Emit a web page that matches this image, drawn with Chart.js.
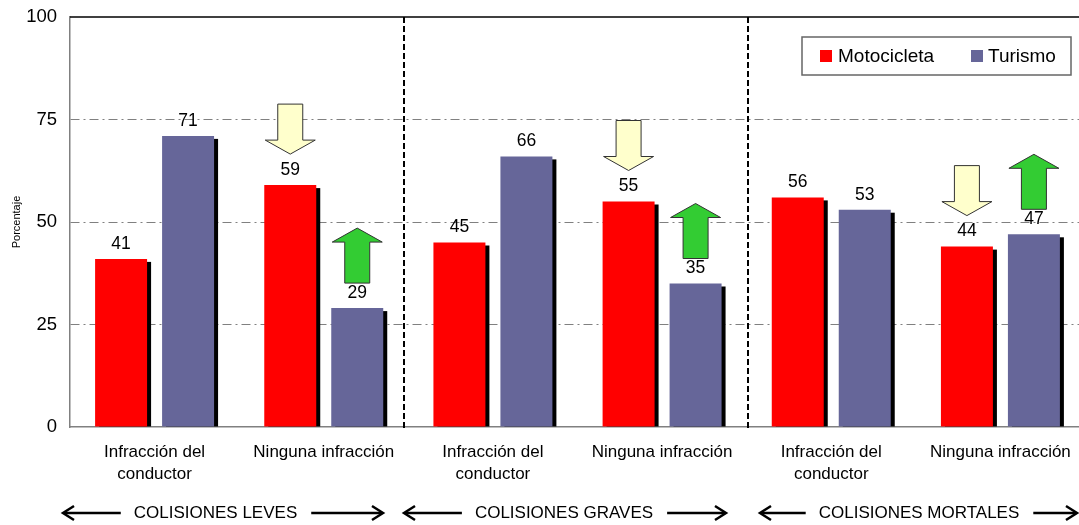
<!DOCTYPE html>
<html>
<head>
<meta charset="utf-8">
<script src="https://cdn.jsdelivr.net/npm/chart.js@4.4.0/dist/chart.umd.min.js"></script>
<style>
  html, body { margin: 0; padding: 0; background: #fff; overflow: hidden; }
  #wrap { width: 1079px; height: 525px; overflow: hidden; position: relative; }
  canvas { display: block; }
</style>
</head>
<body>
<div id="wrap"><canvas id="c" width="1085" height="525"></canvas></div>
<script>
// Categories (two per collision severity)
const categories = [
  ["Infracción del", "conductor"], "Ninguna infracción",
  ["Infracción del", "conductor"], "Ninguna infracción",
  ["Infracción del", "conductor"], "Ninguna infracción"
];
// Percentages per vehicle type
const motocicleta = [41, 59, 45, 55, 56, 44];
const turismo     = [71, 29, 66, 35, 53, 47];
// Y axis
const yMin = 0, yMax = 100, yStep = 25;
// Severity groups shown under the axis
const groupLabels = ["COLISIONES LEVES", "COLISIONES GRAVES", "COLISIONES MORTALES"];
// Trend arrows: down on motorbike bars, up on car bars
const downArrowCats = [1, 3, 5];
const upArrowCats   = [1, 3, 5];

const FONT = '"Liberation Sans", Arial, Helvetica, sans-serif';
const RED = '#FF0000';
const BLUE = '#666699';

// Layout of the decorations (pixels)
const separatorsX = [404, 748];
const groupSpans = [[63, 383, 215.5], [404, 726, 564], [760, 1077, 919]]; // start, end, text centre
const legendBox = { x: 802, y: 37, w: 269, h: 38 };

function blockArrow(ctx, cx, top, h, up, fill) {
  const w = 50, sw = 25, hh = 14;
  ctx.save();
  ctx.beginPath();
  if (up) {
    ctx.moveTo(cx, top);
    ctx.lineTo(cx + w / 2, top + hh);
    ctx.lineTo(cx + sw / 2, top + hh);
    ctx.lineTo(cx + sw / 2, top + h);
    ctx.lineTo(cx - sw / 2, top + h);
    ctx.lineTo(cx - sw / 2, top + hh);
    ctx.lineTo(cx - w / 2, top + hh);
  } else {
    const tip = top + h;
    ctx.moveTo(cx - sw / 2, top);
    ctx.lineTo(cx + sw / 2, top);
    ctx.lineTo(cx + sw / 2, tip - hh);
    ctx.lineTo(cx + w / 2, tip - hh);
    ctx.lineTo(cx, tip);
    ctx.lineTo(cx - w / 2, tip - hh);
    ctx.lineTo(cx - sw / 2, tip - hh);
  }
  ctx.closePath();
  ctx.fillStyle = fill;
  ctx.fill();
  ctx.lineWidth = 1;
  ctx.strokeStyle = '#333';
  ctx.stroke();
  ctx.restore();
}

function lineArrow(ctx, x1, x2, y) {
  // tip at x1
  const dir = x2 > x1 ? 1 : -1;
  ctx.save();
  ctx.strokeStyle = '#000';
  ctx.lineWidth = 2.5;
  ctx.lineCap = 'butt';
  ctx.beginPath();
  ctx.moveTo(x1 + dir * 1, y);
  ctx.lineTo(x2, y);
  ctx.stroke();
  ctx.beginPath();
  ctx.moveTo(x1 + dir * 11, y - 7);
  ctx.lineTo(x1, y);
  ctx.lineTo(x1 + dir * 11, y + 7);
  ctx.stroke();
  ctx.restore();
}

const decorations = {
  id: 'decorations',
  beforeDatasetsDraw(chart) {
    const { ctx, chartArea } = chart;
    ctx.save();
    // top frame line
    ctx.strokeStyle = '#000';
    ctx.lineWidth = 1.5;
    ctx.beginPath();
    ctx.moveTo(chartArea.left, chartArea.top);
    ctx.lineTo(chartArea.right, chartArea.top);
    ctx.stroke();
    // severity separators
    ctx.setLineDash([6, 3]);
    ctx.lineWidth = 2;
    separatorsX.forEach(x => {
      ctx.beginPath();
      ctx.moveTo(x, chartArea.top);
      ctx.lineTo(x, chartArea.bottom + 4);
      ctx.stroke();
    });
    ctx.setLineDash([]);
    // bar shadows
    ctx.fillStyle = '#000';
    chart.data.datasets.forEach((ds, i) => {
      chart.getDatasetMeta(i).data.forEach(bar => {
        const w = bar.width;
        ctx.fillRect(bar.x - w / 2 + 4, bar.y + 3, w, bar.base - bar.y - 3);
      });
    });
    ctx.restore();
  },
  afterDatasetsDraw(chart) {
    const { ctx } = chart;
    ctx.save();
    // value labels
    ctx.font = '17.5px ' + FONT;
    ctx.fillStyle = '#000';
    ctx.textAlign = 'center';
    ctx.textBaseline = 'middle';
    chart.data.datasets.forEach((ds, i) => {
      chart.getDatasetMeta(i).data.forEach((bar, j) => {
        ctx.fillText(String(ds.data[j]), bar.x, bar.y - 15);
      });
    });
    // trend arrows
    const moto = chart.getDatasetMeta(0).data;
    const car = chart.getDatasetMeta(1).data;
    downArrowCats.forEach(j => {
      const b = moto[j];
      blockArrow(ctx, b.x, b.y - 31 - 50, 50, false, '#FFFFCC');
    });
    upArrowCats.forEach(j => {
      const b = car[j];
      blockArrow(ctx, b.x, b.y - 25 - 55, 55, true, '#33CC33');
    });
    ctx.restore();
  },
  afterDraw(chart) {
    const { ctx, chartArea } = chart;
    ctx.save();
    // y axis title
    ctx.font = '11px ' + FONT;
    ctx.fillStyle = '#000';
    ctx.textAlign = 'center';
    ctx.textBaseline = 'middle';
    ctx.translate(17, (chartArea.top + chartArea.bottom) / 2);
    ctx.rotate(-Math.PI / 2);
    ctx.fillText('Porcentaje', 0, 0);
    ctx.restore();

    // legend
    ctx.save();
    const L = legendBox;
    ctx.fillStyle = '#fff';
    ctx.fillRect(L.x, L.y, L.w, L.h);
    ctx.strokeStyle = '#666';
    ctx.lineWidth = 1.5;
    ctx.strokeRect(L.x, L.y, L.w, L.h);
    ctx.font = '19px ' + FONT;
    ctx.textBaseline = 'middle';
    ctx.textAlign = 'left';
    const cy = L.y + L.h / 2;
    const items = [[820, 838], [971, 988]];
    chart.data.datasets.forEach((ds, i) => {
      ctx.fillStyle = ds.backgroundColor;
      ctx.fillRect(items[i][0], cy - 6, 12, 12);
      ctx.fillStyle = '#000';
      ctx.fillText(ds.label, items[i][1], cy + 1);
    });
    ctx.restore();

    // severity groups under the axis
    ctx.save();
    ctx.font = '17px ' + FONT;
    ctx.fillStyle = '#000';
    ctx.textAlign = 'center';
    ctx.textBaseline = 'middle';
    const y = 513;
    groupLabels.forEach((txt, g) => {
      const [s, e, c] = groupSpans[g];
      const tw = ctx.measureText(txt).width;
      ctx.fillText(txt, c, y);
      lineArrow(ctx, s, c - tw / 2 - 13, y);
      lineArrow(ctx, e, c + tw / 2 + 14, y);
    });
    ctx.restore();
  }
};

new Chart(document.getElementById('c'), {
  type: 'bar',
  data: {
    labels: categories,
    datasets: [
      { label: 'Motocicleta', data: motocicleta, backgroundColor: RED, borderWidth: 0 },
      { label: 'Turismo', data: turismo, backgroundColor: BLUE, borderWidth: 0 }
    ]
  },
  options: {
    responsive: false,
    devicePixelRatio: 1,
    animation: false,
    layout: { padding: { top: 17, left: 0, right: 0, bottom: 0 } },
    datasets: { bar: { categoryPercentage: 0.792, barPercentage: 0.776 } },
    plugins: { legend: { display: false }, tooltip: { enabled: false } },
    scales: {
      x: {
        grid: { display: false, drawTicks: false },
        border: { color: '#808080', width: 1.5 },
        ticks: {
          font: { family: FONT, size: 17, lineHeight: 1.3 },
          color: '#000', padding: 14, maxRotation: 0, autoSkip: false
        },
        afterFit(s) { s.height = 98; s.paddingLeft = 0; s.paddingRight = 0; }
      },
      y: {
        min: yMin, max: yMax,
        ticks: { stepSize: yStep, font: { family: FONT, size: 18.5 }, color: '#000', padding: 13 },
        grid: {
          drawTicks: false,
          lineWidth: 1,
          color: c => (c.tick && c.tick.value > yMin && c.tick.value < yMax) ? '#808080' : 'rgba(0,0,0,0)'
        },
        border: { color: '#808080', width: 1.5, dash: [9, 4, 2, 4] },
        afterFit(s) { s.width = 70; s.paddingTop = 0; s.paddingBottom = 0; }
      }
    }
  },
  plugins: [decorations]
});
</script>
</body>
</html>
